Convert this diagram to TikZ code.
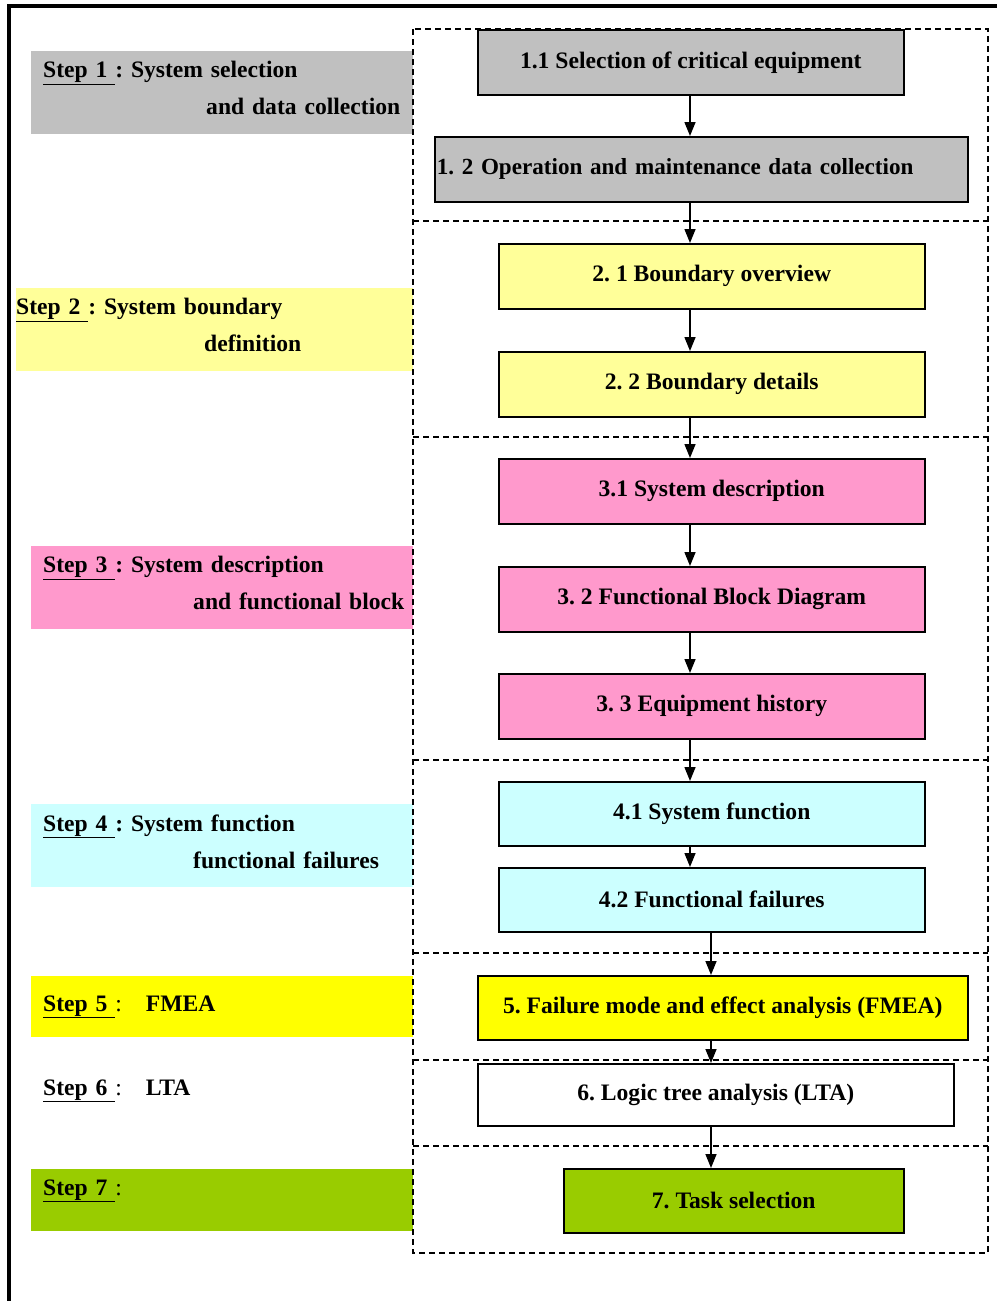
\documentclass[tikz,border=0pt]{standalone}
\usepackage{fontspec}
\setmainfont{Liberation Serif}
\usetikzlibrary{arrows.meta}
\hfuzz=30pt
\frenchspacing

\definecolor{rcmgray}{HTML}{C0C0C0}
\definecolor{rcmlightyellow}{HTML}{FFFF99}
\definecolor{rcmpink}{HTML}{FF99CC}
\definecolor{rcmcyan}{HTML}{CCFFFF}
\definecolor{rcmyellow}{HTML}{FFFF00}
\definecolor{rcmgreen}{HTML}{99CC00}

\tikzset{
  box/.style={draw, line width=1.5pt, anchor=north west, minimum width=426pt,
    minimum height=65pt, inner sep=0pt, font=\fontsize{23.6}{28}\selectfont\bfseries},
  steplabel/.style={anchor=north west, minimum width=382pt, minimum height=83pt,
    text width=358pt, inner xsep=12pt, inner ysep=0pt, align=left,
    font=\fontsize{23.6}{28}\selectfont\bfseries},
  twoline/.style={text depth=46pt},
  arr/.style={-{Triangle[length=14pt,width=11pt]}, line width=1.5pt},
  sect/.style={dash pattern=on 6pt off 4pt, line width=1.2pt}
}

\begin{document}
\begin{tikzpicture}[x=1pt,y=-1pt]
\useasboundingbox (0,0) rectangle (997,1301);
\draw[line width=4pt] (9,1301) -- (9,6) -- (997,6);

% steps on the left
\node[steplabel, twoline, fill=rcmgray] (s1) at (31,51)
  {\underline{Step 1\ }: System selection\\[9pt]\hspace*{163pt}\mbox{and data collection}};
\node[steplabel, twoline, fill=rcmlightyellow, minimum width=397pt, text width=397pt, inner xsep=0pt] (s2) at (16,288)
  {\underline{Step 2\ }: System boundary\\[9pt]\hspace*{188pt}definition};
\node[steplabel, twoline, fill=rcmpink] (s3) at (31,546)
  {\underline{Step 3\ }: System description\\[9pt]\hspace*{150pt}\mbox{and functional block}};
\node[steplabel, twoline, fill=rcmcyan] (s4) at (31,804)
  {\underline{Step 4\ }: System function\\[9pt]\hspace*{150pt}\mbox{functional failures}};
\node[steplabel, fill=rcmyellow, minimum height=61pt] (s5) at (31,976)
  {\underline{Step 5\ }\textmd{:}\hspace{24pt}FMEA};
\node[steplabel, minimum height=61pt] (s6) at (31,1060)
  {\underline{Step 6\ }\textmd{:}\hspace{24pt}LTA};
\node[steplabel, fill=rcmgreen, minimum height=62pt, text depth=26pt] (s7) at (31,1169)
  {\underline{Step 7\ }\textmd{:}};

% sections
\draw[sect] (413,29) rectangle (988,1253);
\foreach \y in {221,437,760,953,1060,1146}
  \draw[sect] (413,\y) -- (988,\y);

% boxes
\node[box, fill=rcmgray] (n11) at (477,29) {1.1 Selection of critical equipment};
\node[box, fill=rcmgray, minimum width=533pt, text width=529pt, align=left,
  font=\fontsize{23.1}{28}\selectfont\bfseries] (n12) at (434,136)
  {1. 2 Operation and maintenance data collection};
\node[box, fill=rcmlightyellow] (n21) at (498,243) {2. 1 Boundary overview};
\node[box, fill=rcmlightyellow] (n22) at (498,351) {2. 2 Boundary details};
\node[box, fill=rcmpink] (n31) at (498,458) {3.1 System description};
\node[box, fill=rcmpink] (n32) at (498,566) {3. 2 Functional Block Diagram};
\node[box, fill=rcmpink] (n33) at (498,673) {3. 3 Equipment history};
\node[box, fill=rcmcyan, minimum height=64pt] (n41) at (498,781) {4.1 System function};
\node[box, fill=rcmcyan, minimum height=64pt] (n42) at (498,867) {4.2 Functional failures};
\node[box, fill=rcmyellow, minimum width=490pt, minimum height=64pt] (n5) at (477,975)
  {5. Failure mode and effect analysis (FMEA)};
\node[box, minimum width=476pt, minimum height=62pt] (n6) at (477,1063) {6. Logic tree analysis (LTA)};
\node[box, fill=rcmgreen, minimum width=340pt, minimum height=64pt] (n7) at (563,1168) {7. Task selection};

% arrows
\coordinate (upper) at (690,0);
\coordinate (lower) at (711,0);
\foreach \a/\b in {n11/n12,n12/n21,n21/n22,n22/n31,n31/n32,n32/n33,n33/n41,n41/n42}
  \draw[arr] (\a.south -| upper) -- (\b.north -| upper);
\foreach \a/\b in {n42/n5,n5/n6,n6/n7}
  \draw[arr] (\a.south -| lower) -- (\b.north -| lower);
\end{tikzpicture}
\end{document}
